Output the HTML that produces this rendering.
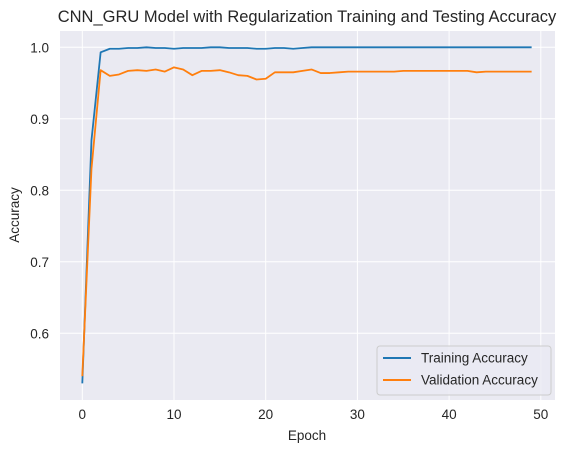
<!DOCTYPE html>
<html><head><meta charset="utf-8"><style>
body{margin:0;background:#fff;}
svg{display:block;font-family:"Liberation Sans",sans-serif;}
</style></head><body>
<svg id="chart" width="568" height="453">
<rect x="60" y="31" width="495" height="369" fill="#eaeaf2"/>
<g id="grid"></g><g id="ticks"></g><g id="series"></g>
<text x="307" y="22" text-anchor="middle" font-size="16.5" fill="#262626">CNN_GRU Model with Regularization Training and Testing Accuracy</text>
<text x="307" y="440" text-anchor="middle" font-size="13.5" fill="#262626">Epoch</text>
<text transform="translate(19,215) rotate(-90)" text-anchor="middle" font-size="13.5" fill="#262626">Accuracy</text>
<g>
<rect x="377" y="346" width="174" height="49" rx="3" fill="#eaeaf2" fill-opacity="0.8" stroke="#cccccc"/>
<line x1="383" y1="358" x2="411" y2="358" stroke="#1f77b4" stroke-width="2"/>
<text x="421" y="362.5" font-size="13.5" fill="#262626">Training Accuracy</text>
<line x1="383" y1="380" x2="411" y2="380" stroke="#ff7f0e" stroke-width="2"/>
<text x="421" y="384.5" font-size="13.5" fill="#262626">Validation Accuracy</text>
</g>
</svg>
<script>
const epochs = Array.from({length:50},(_,i)=>i);
const trainAcc = [0.53,0.87,0.993,0.998,0.998,0.999,0.999,1.0,0.999,0.999,0.998,0.999,0.999,0.999,1.0,1.0,0.999,0.999,0.999,0.998,0.998,0.999,0.999,0.998,0.999,1.0,1.0,1.0,1.0,1.0,1.0,1.0,1.0,1.0,1.0,1.0,1.0,1.0,1.0,1.0,1.0,1.0,1.0,1.0,1.0,1.0,1.0,1.0,1.0,1.0];
const valAcc = [0.54,0.83,0.968,0.96,0.962,0.967,0.968,0.967,0.969,0.966,0.972,0.969,0.961,0.967,0.967,0.968,0.965,0.961,0.96,0.955,0.956,0.965,0.965,0.965,0.967,0.969,0.964,0.964,0.965,0.966,0.966,0.966,0.966,0.966,0.966,0.967,0.967,0.967,0.967,0.967,0.967,0.967,0.967,0.965,0.966,0.966,0.966,0.966,0.966,0.966];
const xTicks = [0,10,20,30,40,50];
const yTicks = [0.6,0.7,0.8,0.9,1.0];
const yTickLabels = ["0.6","0.7","0.8","0.9","1.0"];
const NS="http://www.w3.org/2000/svg";
function xs(v){return 82.3+v*9.17;}
function ys(v){return 47.3+(1-v)*715;}
const grid=document.getElementById('grid'),ticks=document.getElementById('ticks'),series=document.getElementById('series');
function mk(tag,attrs,parent){const e=document.createElementNS(NS,tag);for(const k in attrs)e.setAttribute(k,attrs[k]);parent.appendChild(e);return e;}
xTicks.forEach(t=>{
  const l=mk('line',{x1:xs(t),x2:xs(t),y1:31,y2:400,stroke:'#fff','stroke-width':1},grid);
  
  
  const tx=mk('text',{x:xs(t),y:419,'text-anchor':'middle','font-size':13.5,fill:'#262626'},ticks);
  tx.textContent=t;
  
  
});
yTicks.forEach((t,i)=>{
  const l=mk('line',{x1:60,x2:555,y1:ys(t),y2:ys(t),stroke:'#fff','stroke-width':1},grid);
  
  
  const tx=mk('text',{x:49,y:ys(t)+5,'text-anchor':'end','font-size':13.5,fill:'#262626'},ticks);
  tx.textContent=yTickLabels[i];
  
  
});
function line(data,color,name){
  const p=mk('polyline',{points:data.map((v,i)=>xs(epochs[i])+','+ys(v)).join(' '),fill:'none',stroke:color,'stroke-width':1.8,'stroke-linejoin':'round'},series);
  
  
}
line(trainAcc,'#1f77b4','training-accuracy-line');
line(valAcc,'#ff7f0e','validation-accuracy-line');
</script>
</body></html>
